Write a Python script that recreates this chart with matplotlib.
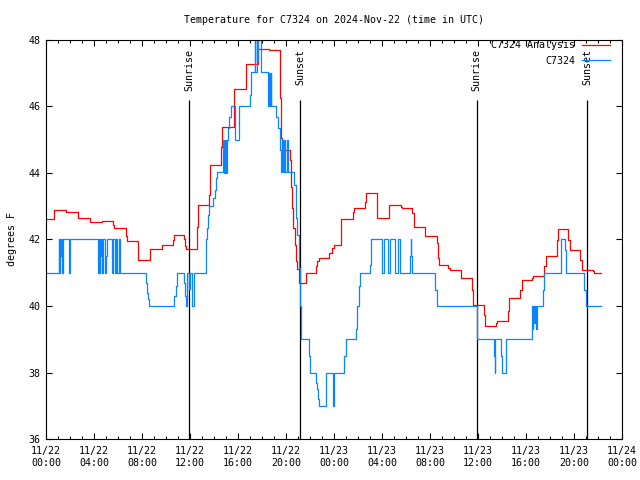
import pandas as pd
import matplotlib
matplotlib.use("Agg")
import matplotlib.pyplot as plt
import matplotlib.dates as mdates

# hours after 2024-11-22 00:00 UTC, temperature in F (step data)
analysis_hours = [0.0, 0.67, 1.67, 2.64, 3.67, 4.67, 5.6, 5.7, 6.64, 6.7, 6.75, 7.64, 7.7,
                  8.69, 9.69, 10.6, 10.67, 11.53, 11.6, 11.67, 12.6, 12.67, 13.58, 13.64, 13.7,
                  14.58, 14.64, 15.69, 16.64, 16.7, 17.69, 18.58, 19.5, 19.58, 19.64, 20.33,
                  20.4, 20.5, 20.6, 20.75, 20.85, 20.95, 21.05, 21.67, 22.47, 22.61, 22.78,
                  23.61, 23.81, 24.03, 24.58, 25.61, 25.69, 26.58, 26.67, 27.61, 28.61, 29.58,
                  29.67, 30.53, 30.64, 30.69, 31.58, 32.56, 32.64, 32.72, 33.53, 33.67, 34.58,
                  35.47, 35.56, 36.5, 36.61, 37.5, 37.61, 38.53, 38.61, 39.5, 39.64, 40.47,
                  40.61, 41.5, 41.64, 42.6, 42.69, 43.53, 43.67, 44.5, 44.64, 45.56, 45.67, 46.25]
analysis_temps = [42.62, 42.88, 42.82, 42.64, 42.52, 42.55, 42.44, 42.34, 42.2, 42.1, 41.95, 41.66, 41.38,
                  41.71, 41.84, 41.99, 42.14, 42.0, 41.81, 41.71, 42.39, 43.04, 43.34, 43.94, 44.24,
                  44.79, 45.37, 46.52, 46.89, 47.26, 47.71, 47.68, 46.24, 45.04, 44.69, 44.39,
                  43.59, 42.94, 42.34, 41.84, 41.34, 41.1, 40.69, 40.99, 41.19, 41.34, 41.44,
                  41.59, 41.74, 41.84, 42.61, 42.84, 42.94, 43.14, 43.39, 42.64, 43.04, 42.99,
                  42.94, 42.79, 42.51, 42.37, 42.09, 41.89, 41.44, 41.24, 41.14, 41.09, 40.84,
                  40.49, 40.04, 39.74, 39.41, 39.49, 39.56, 39.84, 40.24, 40.49, 40.79, 40.84,
                  40.91, 41.19, 41.49, 41.99, 42.31, 41.99, 41.69, 41.39, 41.09, 41.04, 40.99, 40.99]

obs_hours = [0.0, 1.06, 1.12, 1.17, 1.25, 1.3, 1.36, 1.42, 1.94, 2.03, 4.36, 4.42, 4.47, 4.53,
             4.58, 4.64, 4.69, 4.75, 4.92, 5.0, 5.05, 5.47, 5.56, 5.75, 5.83, 5.94, 6.06, 6.17,
             8.33, 8.42, 8.5, 8.6, 10.7, 10.8, 10.94, 11.5, 11.58, 11.67, 11.78, 11.92, 12.03,
             12.14, 12.36, 13.3, 13.35, 13.42, 13.5, 13.58, 13.89, 14.08, 14.17, 14.28, 14.72,
             14.8, 14.9, 15.0, 15.1, 15.19, 15.28, 15.45, 15.75, 16.05, 17.0, 17.05, 17.1, 17.4,
             17.45, 17.55, 17.62, 17.7, 17.9, 18.5, 18.6, 18.65, 18.72, 18.78, 19.14, 19.3,
             19.5, 19.55, 19.65, 19.75, 19.85, 19.95, 20.05, 20.15, 20.7, 20.8, 20.87, 20.95,
             21.05, 21.12, 21.2, 21.25, 21.92, 21.97, 22.5, 22.6, 22.65, 22.75, 23.33, 23.92,
             23.97, 24.86, 24.97, 25.83, 25.9, 25.95, 26.05, 26.1, 26.2, 27.0, 27.05, 27.1,
             28.03, 28.2, 28.5, 28.65, 29.1, 29.35, 29.5, 30.33, 30.38, 30.45, 30.5, 32.42,
             32.56, 35.89, 37.33, 37.38, 37.45, 37.92, 37.97, 38.31, 40.47, 40.55, 40.6, 40.67,
             40.75, 40.8, 40.89, 41.44, 41.5, 42.89, 43.25, 43.33, 44.86, 45.0, 46.25]
obs_temps = [41, 42, 41, 42, 41.5, 42, 41, 42, 41, 42, 41, 42, 41, 42,
             41.5, 42, 41, 42, 41, 41.5, 42, 41, 42, 41, 42, 41, 42, 41,
             40.7, 40.4, 40.2, 40, 40.3, 40.6, 41, 40.7, 40.3, 40, 41, 40.5, 41,
             40, 41, 41.74, 42, 42.34, 42.74, 43.02, 43.24, 43.5, 43.84, 44.04, 45,
             44, 45, 44, 45, 45.34, 45.69, 46, 45, 46, 46.34, 46.69, 47.04, 48,
             47.04, 48, 47.4, 48, 47.04, 46, 47, 46, 47, 46, 45.69, 45.34,
             44.69, 44.04, 45, 44.04, 45, 44.04, 45, 44.04, 43.64, 43.14, 42.64, 42.14,
             41.64, 41.14, 40, 39, 38.5, 38, 37.7, 37.5, 37.2, 37, 38, 37,
             38, 38.5, 39, 39.3, 39.7, 40, 40.3, 40.6, 41, 41.24, 41.64, 42,
             41, 42, 41, 42, 41, 42, 41, 41.5, 42, 41.5, 41, 40.49,
             40, 39, 38.5, 38, 39, 38.5, 38, 39, 40, 39.3, 40, 39.5,
             40, 39.3, 40, 40.49, 41, 42, 41.69, 41, 40.49, 40, 40]

sun_labels = ["Sunrise", "Sunset", "Sunrise", "Sunset"]
sun_hours = [11.94, 21.18, 35.89, 45.11]

start = pd.Timestamp("2024-11-22 00:00")
analysis_t = start + pd.to_timedelta(analysis_hours, unit="h")
obs_t = start + pd.to_timedelta(obs_hours, unit="h")
sun_t = start + pd.to_timedelta(sun_hours, unit="h")

plt.rcParams['font.family'] = ['DejaVu Sans Mono']
fs = 7.2

fig = plt.figure(figsize=(6.4, 4.8), dpi=100)
ax = fig.add_axes([0.0719, 0.0848, 0.9, 0.8325])

ax.plot(analysis_t, analysis_temps, drawstyle='steps-post', color='#ff0000', lw=0.9,
        label='C7324 Analysis')
ax.plot(obs_t, obs_temps, drawstyle='steps-post', color='#0a84ff', lw=0.9, label='C7324')

for t, name in zip(sun_t, sun_labels):
    ax.vlines(t, 36, 46.2, color='black', lw=0.9, zorder=1)
    ax.text(t, 47.72, name, rotation=90, ha='center', va='top', fontsize=fs)

ax.set_xlim(start, start + pd.Timedelta(hours=48))
ax.set_ylim(36, 48)
ax.set_yticks(range(36, 49, 2))

ax.xaxis.set_major_locator(mdates.HourLocator(byhour=range(0, 24, 4)))
ax.xaxis.set_minor_locator(mdates.HourLocator())
ax.xaxis.set_major_formatter(mdates.DateFormatter('%m/%d\n%H:%M'))

ax.tick_params(which='both', direction='in', top=True, right=True, labelsize=fs, width=0.8)
ax.tick_params(which='major', length=4)
ax.tick_params(which='minor', length=2.2)
ax.tick_params(axis='x', pad=5)
ax.tick_params(axis='y', pad=4)
for s in ax.spines.values():
    s.set_linewidth(0.8)

ax.set_title('Temperature for C7324 on 2024-Nov-22 (time in UTC)', fontsize=fs, pad=12)
ax.set_ylabel('degrees F', fontsize=fs, labelpad=8)

ax.legend(loc='upper right', bbox_to_anchor=(0.979, 0.998), frameon=False, fontsize=fs,
          markerfirst=False, handlelength=2.8, handletextpad=0.7, labelspacing=0.55,
          borderpad=0, borderaxespad=0)

fig.savefig('out.png', dpi=100)
